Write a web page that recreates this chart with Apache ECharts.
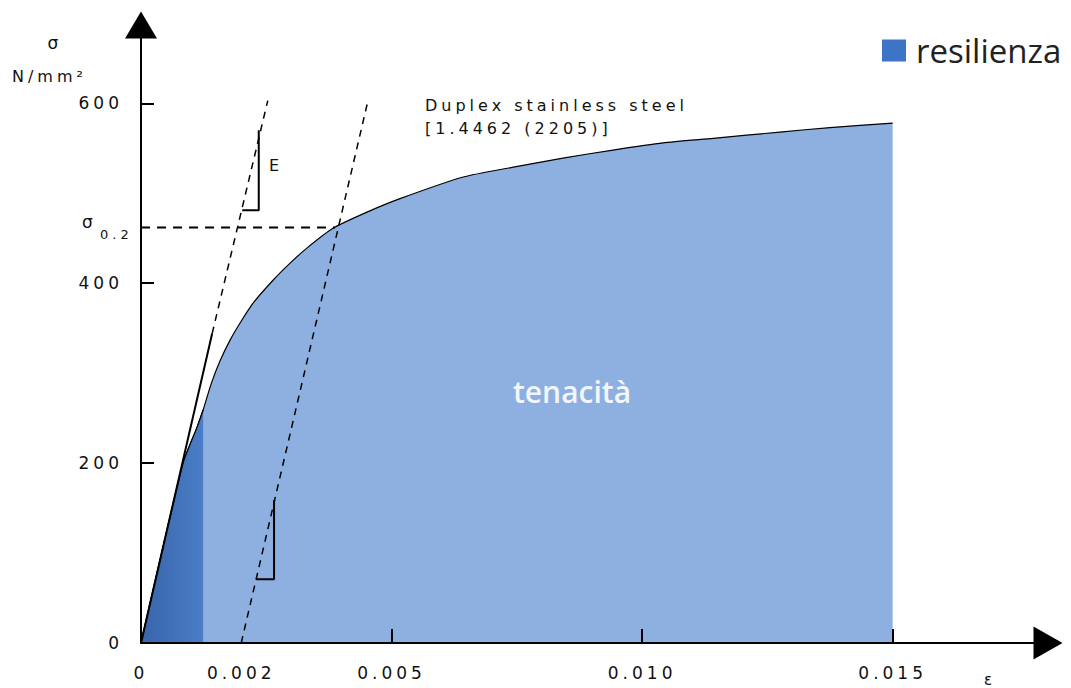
<!DOCTYPE html>
<html><head><meta charset="utf-8">
<script src="https://cdn.jsdelivr.net/npm/echarts@6/dist/echarts.min.js"></script>
<style>
html,body{margin:0;padding:0;background:#fff;}
#c{width:1071px;height:688px;}
#c text[style*="DejaVu"]{letter-spacing:4px;}
</style></head><body><div id="c"></div>
<script>
// Stress-strain curve (strain ε, stress σ in N/mm²)
const strain = [0, 0.00084, 0.00112, 0.00124, 0.00140, 0.00158, 0.00178, 0.00198, 0.00224, 0.00263, 0.00297, 0.00331, 0.00383, 0.00451, 0.00517, 0.00643, 0.00743, 0.00842, 0.00942, 0.01042, 0.01142, 0.01275, 0.01375, 0.015];
const stress = [0, 200, 240, 259, 288, 314, 337, 356, 378, 403, 422, 439, 461, 479, 494, 518, 529, 539, 548, 556, 561, 568, 573, 578];
const resilienceEnd = 0.00124;

// Construction lines
const elasticSolid = [[0, 0], [0.00142, 344]];
const elasticDashed = [[0.00142, 344], [0.00253, 603]];
const offsetLine = [[0.002, 0], [0.00453, 603]];
const proofLine = [[0, 462], [0.00387, 462]];
const slopeUpper = [[0.00202, 481], [0.00235, 481], [0.00235, 570]];
const slopeLower = [[0.0023, 71], [0.002655, 71], [0.002655, 159]];

// Axis ticks and labels
const xLabelValues = [0, 0.002, 0.005, 0.010, 0.015];
const xLabelTexts = ['0', '0.002', '0.005', '0.010', '0.015'];
const xTickValues = [0.005, 0.010, 0.015];
const yLabelValues = [0, 200, 400, 600];
const yTickValues = [200, 400, 600];

const pts = strain.map((s, i) => [s, stress[i]]);
const resPts = pts.filter(p => p[0] <= resilienceEnd + 1e-12);

const chart = echarts.init(document.getElementById('c'), null, {renderer: 'svg'});
const lblFont = {fontFamily: 'DejaVu Sans', fontSize: 17, color: '#111'};

function dashed(name, data, type, width) {
  return {name: name, type: 'line', data: data, symbol: 'none', z: 4, silent: true,
    lineStyle: {color: '#000', width: width || 1.5, type: type}};
}

chart.setOption({
  animation: false,
  grid: {left: 141, right: 23, top: 25, bottom: 45},
  legend: {
    data: [{name: 'resilienza', icon: 'rect', itemStyle: {color: '#3d74c6'}}],
    left: 882, top: 34, padding: 0, itemWidth: 24, itemHeight: 22,
    textStyle: {fontFamily: 'Open Sans', fontSize: 33, color: '#222', padding: [0, 0, 0, 5]}
  },
  xAxis: {
    type: 'value', min: 0, max: 0.0181, z: 10,
    axisLine: {show: true, onZero: false, symbol: ['none', 'triangle'], symbolSize: [33, 29], lineStyle: {color: '#000', width: 2}},
    axisTick: {show: true, inside: true, length: 14, customValues: xTickValues, lineStyle: {color: '#000', width: 2}},
    axisLabel: Object.assign({customValues: xLabelValues, margin: 21,
      formatter: v => {
        let best = 0;
        xLabelValues.forEach((x, i) => { if (Math.abs(x - v) < Math.abs(xLabelValues[best] - v)) best = i; });
        return xLabelTexts[best];
      }}, lblFont),
    splitLine: {show: false}
  },
  yAxis: {
    type: 'value', min: 0, max: 687, z: 10,
    axisLine: {show: true, onZero: false, symbol: ['none', 'triangle'], symbolSize: [32, 27], lineStyle: {color: '#000', width: 2}},
    axisTick: {show: true, inside: true, length: 13, customValues: yTickValues, lineStyle: {color: '#000', width: 2}},
    axisLabel: Object.assign({customValues: yLabelValues, margin: 18}, lblFont),
    splitLine: {show: false}
  },
  series: [
    {name: 'tenacità', type: 'line', data: pts, symbol: 'none', smooth: 0.2, z: 2,
      lineStyle: {color: '#000', width: 1.2}, areaStyle: {color: '#8db0e0', opacity: 1}},
    {name: 'resilienza', type: 'line', data: resPts, symbol: 'none', smooth: 0.2, z: 3,
      itemStyle: {color: '#3d74c6'},
      lineStyle: {color: '#000', width: 1.2},
      areaStyle: {opacity: 1, color: {type: 'linear', x: 0, y: 0, x2: 1, y2: 0,
        colorStops: [{offset: 0, color: '#3864aa'}, {offset: 1, color: '#4a7ec6'}]}}},
    dashed('elastic', elasticSolid, 'solid', 2),
    dashed('elastic2', elasticDashed, [7, 6], 1.5),
    dashed('offset', offsetLine, [7, 6], 1.5),
    dashed('proof', proofLine, [9, 7], 2),
    dashed('slope1', slopeUpper, 'solid', 2),
    dashed('slope2', slopeLower, 'solid', 2)
  ],
  graphic: [
    {type: 'text', x: 55, y: 43, style: {text: 'σ', fontFamily: 'DejaVu Sans', fontSize: 17, fill: '#111', textAlign: 'center', textVerticalAlign: 'middle'}},
    {type: 'text', x: 12, y: 76, style: {text: 'N/mm²', fontFamily: 'DejaVu Sans', fontSize: 16, fill: '#111', textAlign: 'left', textVerticalAlign: 'middle'}},
    {type: 'text', x: 82, y: 222, style: {text: 'σ', fontFamily: 'DejaVu Sans', fontSize: 17, fill: '#111', textAlign: 'left', textVerticalAlign: 'middle'}},
    {type: 'text', x: 100, y: 234, style: {text: '0.2', fontFamily: 'DejaVu Sans', fontSize: 13, fill: '#111', textAlign: 'left', textVerticalAlign: 'middle'}},
    {type: 'text', x: 425, y: 105, style: {text: 'Duplex stainless steel', fontFamily: 'DejaVu Sans', fontSize: 16, fill: '#111', textAlign: 'left', textVerticalAlign: 'middle'}},
    {type: 'text', x: 425, y: 128, style: {text: '[1.4462 (2205)]', fontFamily: 'DejaVu Sans', fontSize: 16, fill: '#111', textAlign: 'left', textVerticalAlign: 'middle'}},
    {type: 'text', x: 276, y: 165, style: {text: 'E', fontFamily: 'DejaVu Sans', fontSize: 16, fill: '#111', textAlign: 'center', textVerticalAlign: 'middle'}},
    {type: 'text', x: 293, y: 533, style: {text: 'E', fontFamily: 'DejaVu Sans', fontSize: 16, fill: '#111', textAlign: 'center', textVerticalAlign: 'middle'}},
    {type: 'text', x: 990, y: 680, style: {text: 'ε', fontFamily: 'DejaVu Sans', fontSize: 15, fill: '#111', textAlign: 'center', textVerticalAlign: 'middle'}},
    {type: 'text', x: 572, y: 391, z: 20, style: {text: 'tenacità', fontFamily: 'Open Sans', fontWeight: 600, fontSize: 30, fill: '#f2f6fc', textAlign: 'center', textVerticalAlign: 'middle'}}
  ]
});
</script></body></html>
